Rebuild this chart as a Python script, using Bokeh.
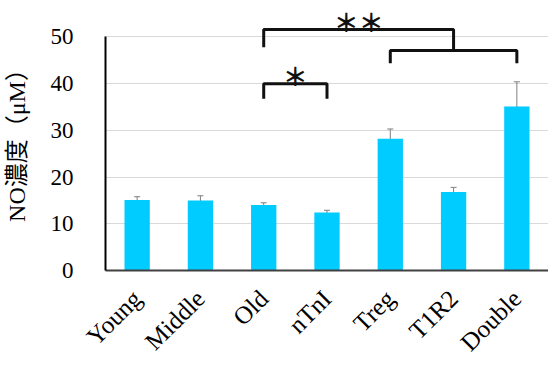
from bokeh.plotting import figure
from bokeh.models import Range1d, FixedTicker, Whisker, ColumnDataSource, TeeHead
from bokeh.core.properties import value
from bokeh.embed import file_html
from bokeh.resources import INLINE

categories = ["Young", "Middle", "Old", "nTnI", "Treg", "T1R2", "Double"]
no_conc = [15.1, 15.0, 14.0, 12.4, 28.2, 16.8, 35.1]
err_upper = [15.8, 16.0, 14.5, 12.9, 30.3, 17.8, 40.4]
err_lower = [14.1, 14.1, 13.3, 11.9, 27.3, 15.9, 34.1]
y_ticks = [0, 10, 20, 30, 40, 50]

# significance brackets: (left category, right category, bar height, leg bottom left, leg bottom right, label)
brackets = [
    ("Old", "nTnI", 40.0, 36.8, 36.8, "＊"),
    ("Old", "T1R2", 51.6, 47.8, 47.1, "＊＊"),
    ("Treg", "Double", 47.1, 44.4, 44.4, ""),
]
label_y = {"＊": 41.9, "＊＊": 53.5}

xpos = [i + 0.5 for i in range(len(categories))]
idx = {c: i + 0.5 for i, c in enumerate(categories)}

src = ColumnDataSource(dict(x=xpos, top=no_conc, up=err_upper, lo=err_lower))

p = figure(width=548, height=368, x_range=Range1d(0, 7), y_range=Range1d(0, 56.1),
           output_backend="svg", toolbar_location=None,
           min_border_left=99, min_border_right=0, min_border_top=8, min_border_bottom=98)
p.outline_line_color = None
p.background_fill_color = "white"

p.vbar(x="x", top="top", width=0.4, source=src, fill_color="#00CCFF", line_color=None)
p.add_layout(Whisker(base="x", upper="up", lower="lo", source=src,
                     line_color="#7f7f7f", line_width=1,
                     upper_head=TeeHead(size=6, line_color="#7f7f7f", line_width=1),
                     lower_head=TeeHead(size=6, line_color="#7f7f7f", line_width=1)))

for left, right, h, l1, l2, lab in brackets:
    x0, x1 = idx[left], idx[right]
    p.line([x0, x0, x1, x1], [l1, h, h, l2], line_color="#111111", line_width=3)
    if lab:
        p.text([(x0 + x1) / 2], [label_y[lab]], text=[lab], text_font=value("Noto Sans CJK JP"),
               text_font_size="25px", text_font_style="bold", text_align="center",
               text_baseline="middle", text_color="#111111")

# axes
p.xaxis.ticker = FixedTicker(ticks=xpos)
p.xaxis.major_label_overrides = {x: c for x, c in zip(xpos, categories)}
p.xaxis.major_label_orientation = 0.785398
p.xaxis.major_tick_line_color = None
p.xaxis.minor_tick_line_color = None
p.xaxis.axis_line_color = "#404040"
p.xaxis.axis_line_width = 2
p.xaxis.major_label_text_font = "Liberation Serif"
p.xaxis.major_label_text_font_size = "25px"
p.xaxis.major_label_text_color = "black"
p.xaxis.major_label_standoff = 18

p.yaxis.ticker = FixedTicker(ticks=y_ticks)
p.yaxis.bounds = (0, 50)
p.yaxis.major_tick_line_color = None
p.yaxis.minor_tick_line_color = None
p.yaxis.axis_line_color = "black"
p.yaxis.axis_line_width = 2
p.yaxis.major_label_text_font = "Liberation Serif"
p.yaxis.major_label_text_font_size = "23px"
p.yaxis.major_label_text_color = "black"
p.yaxis.major_label_standoff = 26
p.yaxis.axis_label = "NO濃度（μM）"
p.yaxis.axis_label_text_font = "Liberation Serif, Noto Sans CJK JP"
p.yaxis.axis_label_text_font_size = "24px"
p.yaxis.axis_label_text_font_style = "normal"
p.yaxis.axis_label_text_color = "black"
p.yaxis.axis_label_standoff = 18

p.xgrid.grid_line_color = None
p.ygrid.ticker = FixedTicker(ticks=y_ticks)
p.ygrid.grid_line_color = "#d9d9d9"
p.ygrid.grid_line_width = 1

open("out.html", "w").write(file_html(p, INLINE))
